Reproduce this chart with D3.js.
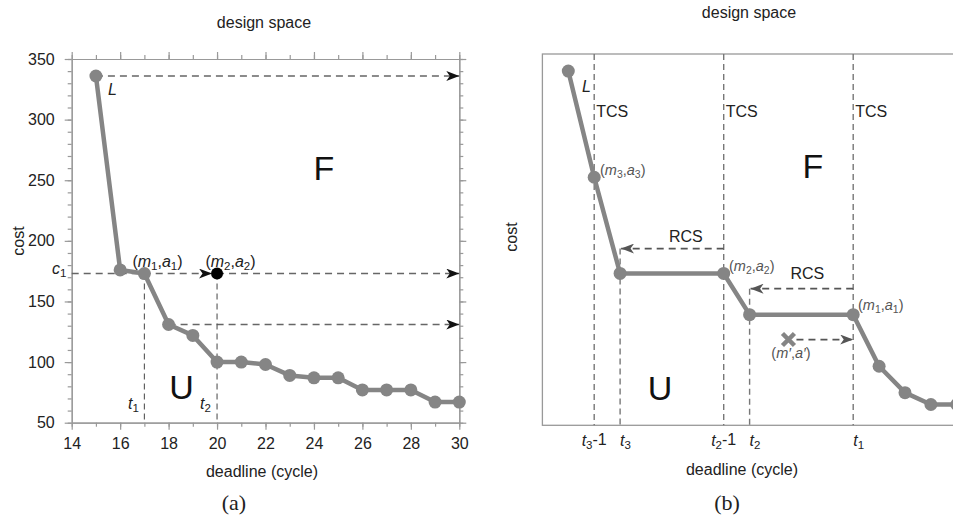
<!doctype html>
<html lang="en">
<head>
    <meta charset="UTF-8">
    <title>design space</title>
    <script src="https://cdn.jsdelivr.net/npm/d3@7"></script>
    <style>
        body{ margin:0; background:#fff; }
        svg{ display:block; font-family:"Liberation Sans", Arial, sans-serif; }
        .frame{ fill:none; stroke:#999; stroke-width:1.3px; }
        .axis path, .axis line{ stroke:#999; stroke-width:1.2px; }
        .axis text{ font-size:16px; fill:#222; }
        .curve{ fill:none; stroke:#858585; stroke-width:4.5px; stroke-linejoin:round; }
        .dot{ fill:#858585; }
        .guide{ fill:none; stroke:#666; stroke-width:1.5px; stroke-dasharray:7,5; }
        .drop{ fill:none; stroke:#555; stroke-width:1.1px; stroke-dasharray:6,4; }
        .tcs{ fill:none; stroke:#777; stroke-width:1.4px; stroke-dasharray:6,4; }
        .rcs{ fill:none; stroke:#555; stroke-width:1.8px; stroke-dasharray:7,5; }
        .lbl{ font-size:16px; fill:#222; }
        .big{ font-size:34px; fill:#111; }
        .small{ font-size:14.5px; fill:#555; }
        .cap{ font-family:"Liberation Serif", "DejaVu Serif", serif; font-size:22px; fill:#222; }
    </style>
</head>
<body>
<svg width="953" height="521"></svg>
<script>
    // ---- data: panel (a)
    const deadlineA = [15,16,17,18,19,20,21,22,23,24,25,26,27,28,29,30];
    const costA     = [336,176,173,131,122,100,100,98,89,87,87,77,77,77,67,67];
    const xTicksA = [14,16,18,20,22,24,26,28,30];
    const yTicksA = [50,100,150,200,250,300,350];

    // ---- data: panel (b) (schematic, no numeric axis)
    const deadlineB = [1,2,3,7,8,12,13,14,15,16];
    const costB     = [95.4,66.8,40.9,40.9,29.8,29.8,15.9,8.8,5.6,5.6];
    const tcsAt = [2,7,12];                 // t3-1, t2-1, t1
    const rcsArrows = [{from:7,to:3,y:47.6},{from:12,to:8,y:36.8}];
    const tLabelsB = [{v:2,t:"3",s:"-1",mid:true},{v:3,t:"3",s:""},{v:7,t:"2",s:"-1",mid:true},{v:8,t:"2",s:""},{v:12,t:"1",s:""}];
    const rejected = {x:9.5, y:23.1};

    const svg = d3.select("svg");

    // arrow markers
    const defs = svg.append("defs");
    function marker(id, color){
        defs.append("marker").attr("id",id)
            .attr("markerUnits","userSpaceOnUse")
            .attr("markerWidth",14).attr("markerHeight",10)
            .attr("refX",13).attr("refY",5).attr("orient","auto")
            .append("path").attr("d","M0,0 L13,5 L0,10 L3.5,5 Z").attr("fill",color);
    }
    marker("arrK","#111");
    marker("arrG","#555");

    // ================= panel (a) =================
    let x = d3.scaleLinear().domain([14,30]).range([71.7,459.3]);
    let y = d3.scaleLinear().domain([50,350]).range([422.7,59]);

    const gA = svg.append("g");
    const minorX = d3.range(14,31,1), minorY = d3.range(50,351,10);

    gA.append("g").attr("class","axis").attr("transform","translate(0,422.7)")
        .call(d3.axisBottom(x).tickValues(minorX).tickSize(4).tickSizeOuter(0).tickFormat(""));
    gA.append("g").attr("class","axis").attr("transform","translate(0,422.7)")
        .call(d3.axisBottom(x).tickValues(xTicksA).tickSize(7).tickSizeOuter(0).tickPadding(8).tickFormat(d3.format("d")));
    gA.append("g").attr("class","axis").attr("transform","translate(0,59)")
        .call(d3.axisTop(x).tickValues(minorX).tickSize(4).tickSizeOuter(0).tickFormat(""));
    gA.append("g").attr("class","axis").attr("transform","translate(0,59)")
        .call(d3.axisTop(x).tickValues(xTicksA).tickSize(7).tickSizeOuter(0).tickFormat(""));
    gA.append("g").attr("class","axis").attr("transform","translate(71.7,0)")
        .call(d3.axisLeft(y).tickValues(minorY).tickSize(4).tickSizeOuter(0).tickFormat(""));
    gA.append("g").attr("class","axis").attr("transform","translate(71.7,0)")
        .call(d3.axisLeft(y).tickValues(yTicksA).tickSize(7).tickSizeOuter(0).tickPadding(10).tickFormat(d3.format("d")));
    gA.append("g").attr("class","axis").attr("transform","translate(459.3,0)")
        .call(d3.axisRight(y).tickValues(minorY).tickSize(4).tickSizeOuter(0).tickFormat(""));
    gA.append("g").attr("class","axis").attr("transform","translate(459.3,0)")
        .call(d3.axisRight(y).tickValues(yTicksA).tickSize(7).tickSizeOuter(0).tickFormat(""));

    // dashed guides
    const c1 = costA[2];
    gA.append("line").attr("class","guide").attr("x1",x(15)).attr("y1",y(costA[0])).attr("x2",x(30)).attr("y2",y(costA[0])).attr("marker-end","url(#arrK)");
    gA.append("line").attr("class","guide").attr("x1",x(14)).attr("y1",y(c1)).attr("x2",x(20)-5).attr("y2",y(c1)).attr("marker-end","url(#arrK)");
    gA.append("line").attr("class","guide").attr("x1",x(20)).attr("y1",y(c1)).attr("x2",x(30)).attr("y2",y(c1)).attr("marker-end","url(#arrK)");
    gA.append("line").attr("class","guide").attr("x1",x(18)).attr("y1",y(costA[3])).attr("x2",x(30)).attr("y2",y(costA[3])).attr("marker-end","url(#arrK)");
    [17,20].forEach(v=>{
        gA.append("line").attr("class","drop").attr("x1",x(v)).attr("x2",x(v)).attr("y1",y(c1)).attr("y2",y(50));
    });

    // curve
    const ptsA = deadlineA.map((d,i)=>[d,costA[i]]);
    gA.append("path").attr("class","curve")
        .attr("d",d3.line().x(d=>x(d[0])).y(d=>y(d[1]))(ptsA));
    gA.selectAll(".dotA").data(ptsA).enter().append("circle")
        .attr("class","dot").attr("cx",d=>x(d[0])).attr("cy",d=>y(d[1])).attr("r",6.5);
    gA.append("circle").attr("cx",x(20)).attr("cy",y(c1)).attr("r",6).attr("fill","#000");

    // labels
    function sub(g, px, py, base, s, cls, anchor){
        const t = g.append("text").attr("class",cls).attr("x",px).attr("y",py).attr("text-anchor",anchor||"start");
        t.append("tspan").attr("font-style","italic").text(base);
        t.append("tspan").attr("font-size","0.72em").attr("dy","0.3em").text(s);
        return t;
    }
    function pair(g, px, py, a, b, cls, anchor){
        const t = g.append("text").attr("class",cls).attr("x",px).attr("y",py).attr("text-anchor",anchor||"start");
        t.append("tspan").text("(");
        t.append("tspan").attr("font-style","italic").text("m");
        t.append("tspan").attr("font-size","0.72em").attr("dy","0.3em").text(a);
        t.append("tspan").attr("dy","-0.22em").text(",");
        t.append("tspan").attr("font-style","italic").text("a");
        t.append("tspan").attr("font-size","0.72em").attr("dy","0.3em").text(b);
        t.append("tspan").attr("dy","-0.22em").text(")");
    }
    pair(gA, 157.5, 267, "1", "1", "lbl", "middle");
    pair(gA, 230.5, 267, "2", "2", "lbl", "middle");
    gA.append("text").attr("class","lbl").attr("x",108).attr("y",95).attr("font-style","italic").text("L");
    sub(gA, 52, 274, "c", "1", "lbl");
    sub(gA, 128, 409, "t", "1", "lbl");
    sub(gA, 200, 409, "t", "2", "lbl");
    gA.append("text").attr("class","big").attr("x",324).attr("y",180).attr("text-anchor","middle").text("F");
    gA.append("text").attr("class","big").attr("x",181.5).attr("y",399).attr("text-anchor","middle").text("U");

    gA.append("text").attr("class","lbl").attr("x",264).attr("y",28).attr("text-anchor","middle").text("design space");
    gA.append("text").attr("class","lbl").attr("transform","translate(24,241) rotate(-90)").attr("text-anchor","middle").text("cost");
    gA.append("text").attr("class","lbl").attr("x",262).attr("y",477).attr("text-anchor","middle").text("deadline (cycle)");
    gA.append("text").attr("class","cap").attr("x",234).attr("y",510).attr("text-anchor","middle").text("(a)");

    // ================= panel (b) =================
    let xb = d3.scaleLinear().domain([0,17]).range([542.4,542.4+17*25.9]);
    let yb = d3.scaleLinear().domain([0,100]).range([425.3,54]);
    const gB = svg.append("g");

    gB.append("rect").attr("class","frame")
        .attr("x",xb(0)).attr("y",yb(100)).attr("width",xb(17)-xb(0)).attr("height",yb(0)-yb(100));

    tcsAt.forEach(v=>{
        gB.append("line").attr("class","tcs").attr("x1",xb(v)).attr("x2",xb(v)).attr("y1",yb(100)).attr("y2",yb(0));
        gB.append("text").attr("class","lbl").attr("x",xb(v)+2).attr("y",117).text("TCS");
    });
    const rcsLabelDx = [14, 6], rcsLabelDy = [-7, -10];
    rcsArrows.forEach((r,i)=>{
        gB.append("line").attr("class","tcs").attr("x1",xb(r.to)).attr("x2",xb(r.to)).attr("y1",yb(r.y)).attr("y2",yb(0));
        gB.append("line").attr("class","rcs").attr("x1",xb(r.from)).attr("x2",xb(r.to)+1).attr("y1",yb(r.y)).attr("y2",yb(r.y)).attr("marker-end","url(#arrG)");
        gB.append("text").attr("class","lbl").attr("x",(xb(r.from)+xb(r.to))/2 + rcsLabelDx[i]).attr("y",yb(r.y)+rcsLabelDy[i])
            .attr("text-anchor","middle").text("RCS");
    });
    // rejected point and its arrow
    gB.append("line").attr("class","rcs").attr("x1",xb(rejected.x)+8).attr("x2",xb(12)).attr("y1",yb(rejected.y)).attr("y2",yb(rejected.y)).attr("marker-end","url(#arrG)");

    const ptsB = deadlineB.map((d,i)=>[d,costB[i]]);
    gB.append("path").attr("class","curve")
        .attr("d",d3.line().x(d=>xb(d[0])).y(d=>yb(d[1]))(ptsB));
    gB.selectAll(".dotB").data(ptsB).enter().append("circle")
        .attr("class","dot").attr("cx",d=>xb(d[0])).attr("cy",d=>yb(d[1])).attr("r",6.5);

    const cx = xb(rejected.x), cy = yb(rejected.y);
    gB.append("path").attr("d",`M${cx-6},${cy-6}L${cx+6},${cy+6}M${cx-6},${cy+6}L${cx+6},${cy-6}`)
        .attr("stroke","#858585").attr("stroke-width",4.5);

    gB.append("text").attr("class","lbl").attr("x",582).attr("y",92).attr("font-style","italic").text("L");
    pair(gB, 600, 175, "3", "3", "small");
    pair(gB, 729, 271, "2", "2", "small");
    pair(gB, 858, 310, "1", "1", "small");
    {
        const t = gB.append("text").attr("class","small").attr("x",791).attr("y",358).attr("text-anchor","middle");
        t.append("tspan").text("(");
        t.append("tspan").attr("font-style","italic").text("m′");
        t.append("tspan").text(",");
        t.append("tspan").attr("font-style","italic").text("a′");
        t.append("tspan").text(")");
    }
    gB.append("text").attr("class","big").attr("x",813).attr("y",178).attr("text-anchor","middle").text("F");
    gB.append("text").attr("class","big").attr("x",660).attr("y",400).attr("text-anchor","middle").text("U");

    tLabelsB.forEach(d=>{
        const t = gB.append("text").attr("class","lbl").attr("x",xb(d.v)).attr("y",446)
            .attr("text-anchor",d.mid?"middle":"start");
        t.append("tspan").attr("font-style","italic").text("t");
        t.append("tspan").attr("font-size","0.72em").attr("dy","0.3em").text(d.t);
        if(d.s) t.append("tspan").attr("dy","-0.3em").text(d.s);
    });

    gB.append("text").attr("class","lbl").attr("x",749).attr("y",18).attr("text-anchor","middle").text("design space");
    gB.append("text").attr("class","lbl").attr("transform","translate(517,237) rotate(-90)").attr("text-anchor","middle").text("cost");
    gB.append("text").attr("class","lbl").attr("x",742).attr("y",475).attr("text-anchor","middle").text("deadline (cycle)");
    gB.append("text").attr("class","cap").attr("x",727).attr("y",510).attr("text-anchor","middle").text("(b)");
</script>
</body>
</html>
